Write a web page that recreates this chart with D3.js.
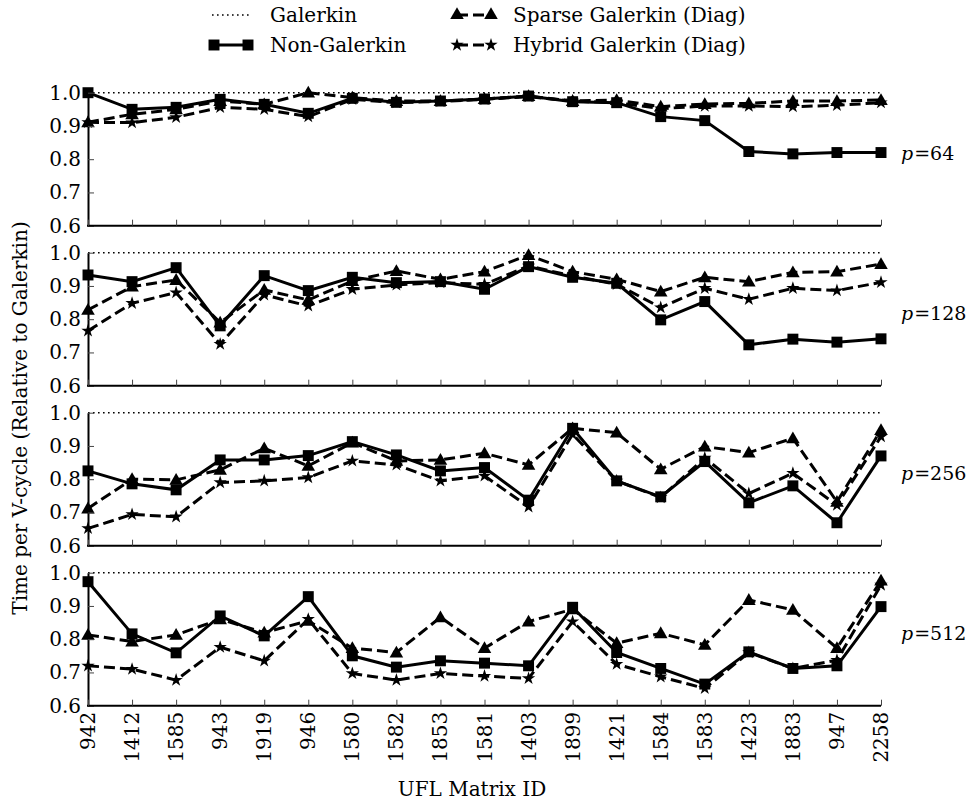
<!DOCTYPE html>
<html><head><meta charset="utf-8">
<script src="https://cdn.jsdelivr.net/npm/d3@7"></script>
<style>
body{margin:0;background:#fff;}
text{font-family:"DejaVu Serif",serif;}
</style></head>
<body><svg id="c" width="969" height="804"></svg>
<script>
const categories = ["942","1412","1585","943","1919","946","1580","1582","1853","1581","1403","1899","1421","1584","1583","1423","1883","947","2258"];
const yTicks = [0.6,0.7,0.8,0.9,1.0];
const panelLabels = ["64","128","256","512"];
const seriesNames = ["Galerkin","Non-Galerkin","Sparse Galerkin (Diag)","Hybrid Galerkin (Diag)"];

const nonGal64 = [1.0,0.95,0.956,0.98,0.965,0.938,0.983,0.971,0.975,0.981,0.99,0.973,0.97,0.928,0.916,0.823,0.816,0.82,0.82];
const sparse64 = [0.911,0.935,0.95,0.975,0.965,1.0,0.985,0.975,0.975,0.981,0.99,0.975,0.978,0.958,0.966,0.968,0.975,0.975,0.978];
const hybrid64 = [0.911,0.91,0.926,0.956,0.95,0.928,0.98,0.97,0.974,0.98,0.988,0.975,0.97,0.952,0.96,0.96,0.958,0.962,0.97];

const nonGal128 = [0.933,0.913,0.955,0.78,0.931,0.886,0.926,0.91,0.913,0.89,0.958,0.926,0.908,0.798,0.853,0.723,0.74,0.731,0.741];
const sparse128 = [0.828,0.898,0.918,0.79,0.888,0.858,0.915,0.945,0.92,0.943,0.993,0.943,0.92,0.883,0.926,0.913,0.941,0.943,0.966];
const hybrid128 = [0.765,0.848,0.88,0.725,0.873,0.84,0.89,0.903,0.91,0.905,0.96,0.93,0.905,0.835,0.893,0.86,0.893,0.886,0.911];

const nonGal256 = [0.825,0.786,0.768,0.858,0.858,0.871,0.913,0.873,0.825,0.835,0.737,0.953,0.795,0.747,0.853,0.729,0.78,0.669,0.87];
const sparse256 = [0.712,0.8,0.798,0.828,0.893,0.84,0.91,0.855,0.858,0.878,0.843,0.953,0.94,0.83,0.898,0.88,0.923,0.732,0.948];
const hybrid256 = [0.652,0.694,0.687,0.79,0.795,0.805,0.855,0.843,0.795,0.81,0.717,0.935,0.795,0.745,0.864,0.757,0.818,0.722,0.928];

const nonGal512 = [0.973,0.816,0.759,0.87,0.81,0.928,0.75,0.716,0.735,0.728,0.72,0.896,0.76,0.712,0.665,0.762,0.712,0.72,0.898];
const sparse512 = [0.813,0.793,0.813,0.86,0.82,0.855,0.773,0.76,0.866,0.773,0.853,0.89,0.788,0.818,0.783,0.918,0.888,0.773,0.976];
const hybrid512 = [0.72,0.71,0.677,0.776,0.735,0.86,0.697,0.677,0.697,0.689,0.682,0.853,0.725,0.687,0.652,0.76,0.712,0.737,0.963];

const panels = [
  {p: panelLabels[0], non: nonGal64, sparse: sparse64, hybrid: hybrid64},
  {p: panelLabels[1], non: nonGal128, sparse: sparse128, hybrid: hybrid128},
  {p: panelLabels[2], non: nonGal256, sparse: sparse256, hybrid: hybrid256},
  {p: panelLabels[3], non: nonGal512, sparse: sparse512, hybrid: hybrid512}
];

const svg = d3.select("#c");
const FONT = "DejaVu Serif, serif";
const x = d3.scalePoint().domain(categories).range([88, 881]);
const tops = [92.7, 252.7, 412.7, 572.7];
const ph = 133;

const sym = {
  non: d3.symbol().type(d3.symbolSquare).size(120),
  sparse: d3.symbol().type(d3.symbolTriangle).size(80),
  hybrid: d3.symbol().type(d3.symbolStar).size(55)
};
const dash = "11,5";

panels.forEach((pd, i) => {
  const y = d3.scaleLinear().domain([0.6, 1.0]).range([tops[i] + ph, tops[i]]);
  const g = svg.append("g");

  g.append("line").attr("x1", x(categories[0])).attr("x2", x(categories[categories.length-1]))
    .attr("y1", y(1.0)).attr("y2", y(1.0))
    .attr("stroke", "#000").attr("stroke-width", 1.6).attr("stroke-dasharray", "1.6,3.4");

  const line = d3.line().x((d, j) => x(categories[j])).y(d => y(d));

  const order = ["hybrid", "sparse", "non"];
  order.forEach(k => {
    g.append("path").datum(pd[k]).attr("d", line)
      .attr("fill", "none").attr("stroke", "#000").attr("stroke-width", 3)
      .attr("stroke-linejoin", "miter")
      .attr("stroke-dasharray", k === "non" ? null : dash);
    g.selectAll(null).data(pd[k]).enter().append("path")
      .attr("d", sym[k])
      .attr("transform", (d, j) => `translate(${x(categories[j])},${y(d) + (k === "sparse" ? 1 : 0)})`)
      .attr("fill", "#000");
  });

  const ya = d3.axisLeft(y).tickValues(yTicks).tickFormat(d3.format(".1f")).tickSizeInner(-6).tickSizeOuter(0).tickPadding(7);
  const yg = g.append("g").attr("transform", `translate(${x(categories[0])},0)`).call(ya);
  yg.select(".domain").attr("stroke-width", 2);
  yg.selectAll(".tick line").attr("stroke", "#444").attr("stroke-width", 1);
  yg.selectAll(".tick text").attr("font-size", 20).attr("font-family", FONT).attr("fill", "#000");

  const xa = d3.axisBottom(x).tickSizeInner(-6).tickSizeOuter(0).tickFormat("");
  const xg = g.append("g").attr("transform", `translate(0,${y(0.6)})`).call(xa);
  xg.select(".domain").attr("stroke-width", 2).attr("d", `M${x(categories[0])-1},0H${x(categories[categories.length-1])}`);
  xg.selectAll(".tick line").attr("stroke", "#444").attr("stroke-width", 1);

  if (i === panels.length - 1) {
    g.selectAll(null).data(categories).enter().append("text")
      .attr("transform", d => `translate(${x(d)},${y(0.6) + 6}) rotate(-90)`)
      .attr("text-anchor", "end").attr("dominant-baseline", "central")
      .attr("font-family", FONT).attr("font-size", 20).text(d => d);
  }

  const pl = g.append("text").attr("x", 901).attr("y", y(0.8) + 1).attr("font-size", 19)
    .attr("font-family", "Liberation Serif, serif");
  pl.append("tspan").attr("font-style", "italic").text("p");
  pl.append("tspan").attr("dx", 1).text("=" + pd.p);
});

svg.append("text").attr("transform", "translate(20,418) rotate(-90)")
  .attr("text-anchor", "middle").attr("dominant-baseline", "central")
  .attr("font-family", FONT).attr("font-size", 20)
  .text("Time per V-cycle (Relative to Galerkin)");
svg.append("text").attr("x", 472).attr("y", 796).attr("text-anchor", "middle")
  .attr("font-family", FONT).attr("font-size", 20)
  .text("UFL Matrix ID");

const leg = [
  {name: seriesNames[0], key: "gal", x: 212, y: 15},
  {name: seriesNames[1], key: "non", x: 212, y: 45},
  {name: seriesNames[2], key: "sparse", x: 455, y: 15},
  {name: seriesNames[3], key: "hybrid", x: 455, y: 45}
];
leg.forEach(l => {
  const lg = svg.append("g");
  const x0 = l.x + 2, x1 = l.x + 36;
  if (l.key === "gal") {
    lg.append("line").attr("x1", l.x).attr("x2", l.x + 38).attr("y1", l.y).attr("y2", l.y)
      .attr("stroke", "#000").attr("stroke-width", 1.6).attr("stroke-dasharray", "1.6,3.4");
  } else {
    lg.append("line").attr("x1", x0).attr("x2", x1).attr("y1", l.y).attr("y2", l.y)
      .attr("stroke", "#000").attr("stroke-width", 3).attr("stroke-dasharray", l.key === "non" ? null : dash);
    [x0, x1].forEach(xx => lg.append("path").attr("d", sym[l.key]).attr("transform", `translate(${xx},${l.y})`).attr("fill", "#000"));
  }
  lg.append("text").attr("x", l.x + 58).attr("y", l.y).attr("dominant-baseline", "central")
    .attr("font-family", FONT).attr("font-size", 20).text(l.name);
});
</script></body></html>
